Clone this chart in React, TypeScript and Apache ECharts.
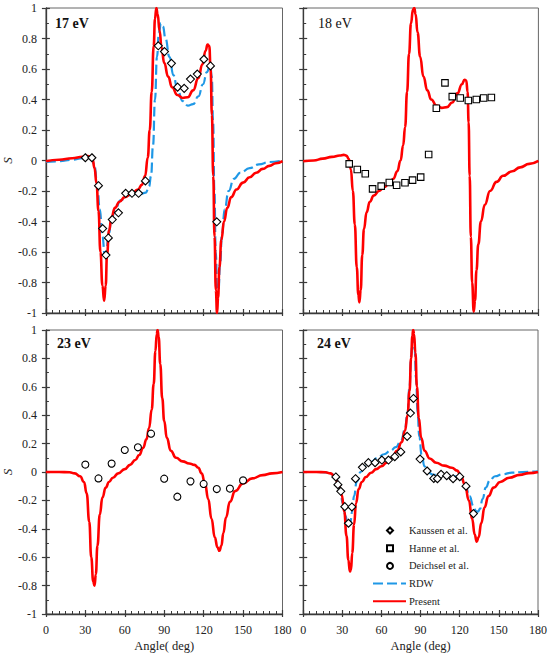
import React, { useEffect, useRef } from "react";
import * as echarts from "echarts";

// ---------- data (angle in deg, S) ----------
const kaussen17: [number, number][] = [
  [30, 0.018], [35, 0.018], [40, -0.165], [43.2, -0.446], [45.7, -0.62], [47.5, -0.508],
  [50.5, -0.387], [55.2, -0.343], [60.7, -0.215], [65.5, -0.215], [70.5, -0.215], [75.7, -0.134],
  [85.5, 0.752], [90.2, 0.714], [95.5, 0.637], [100.2, 0.481], [105.2, 0.473], [110, 0.534],
  [115.2, 0.567], [120.2, 0.664], [125.2, 0.62], [130, -0.402],
];
const rdw17: [number, number][] = [
  [0, -0.01], [10, -0.005], [20, 0.005], [28, 0.015], [32, 0.02], [35, 0.01], [37, -0.04],
  [39, -0.15], [41, -0.32], [43, -0.5], [44.8, -0.62], [46, -0.6], [47.5, -0.5], [50, -0.38],
  [53, -0.31], [57, -0.26], [62, -0.23], [67, -0.22], [72, -0.22], [76, -0.21], [78.5, -0.17],
  [80, -0.1], [81.5, 0.1], [83, 0.4], [84.5, 0.68], [86, 0.84], [87.5, 0.9], [89, 0.88],
  [91, 0.8], [94, 0.68], [97, 0.56], [100, 0.47], [104, 0.39], [108, 0.36], [112, 0.37],
  [116, 0.42], [119.5, 0.5], [122.5, 0.58], [125, 0.63], [126.2, 0.55], [127.2, 0.25],
  [128.2, -0.2], [129.2, -0.6], [130.3, -0.84], [131.3, -0.85], [132.5, -0.68], [134, -0.48],
  [136, -0.32], [139, -0.2], [143, -0.12], [148, -0.08], [155, -0.05], [162, -0.025],
  [170, -0.01], [180, 0.0],
];
const present17: [number, number][] = [
  [0, -0.005], [10, 0.005], [20, 0.015], [28, 0.025], [32, 0.03], [34, 0.025], [35.5, 0.01],
  [37, -0.05], [38.5, -0.15], [40, -0.33], [41.5, -0.6], [43, -0.82], [44.3, -0.92],
  [45.5, -0.82], [46.5, -0.62], [48, -0.46], [50, -0.37], [52.5, -0.31], [56, -0.27],
  [60, -0.24], [65, -0.22], [70, -0.19], [73, -0.16], [75.5, -0.1], [77.5, 0.02], [79, 0.2],
  [80.5, 0.45], [82, 0.75], [83, 0.93], [84, 1.0], [85, 0.96], [86.5, 0.85], [88, 0.74],
  [90, 0.64], [93, 0.55], [96, 0.48], [100, 0.43], [104, 0.41], [108, 0.415], [112, 0.46],
  [116, 0.54], [119, 0.63], [121.5, 0.72], [123, 0.76], [124.3, 0.75], [125.3, 0.6],
  [126.3, 0.3], [127.3, -0.1], [128.3, -0.5], [129.3, -0.85], [130.2, -1.0], [131, -0.9],
  [132, -0.7], [133.5, -0.52], [135.5, -0.4], [138, -0.31], [141, -0.24], [145, -0.19],
  [150, -0.145], [155, -0.11], [160, -0.08], [165, -0.055], [170, -0.035], [175, -0.018],
  [180, -0.004],
];

const hanne18: [number, number][] = [
  [35.2, -0.022], [41.4, -0.059], [47.5, -0.087], [53.1, -0.186], [59.7, -0.168],
  [65.9, -0.144], [71.5, -0.162], [77.9, -0.146], [83.7, -0.129], [89.9, -0.109],
  [96, 0.039], [101.9, 0.343], [108.5, 0.509], [114.1, 0.419], [120.2, 0.41],
  [126.4, 0.393], [132.5, 0.4], [138.1, 0.41], [144, 0.413],
];
const present18: [number, number][] = [
  [0, -0.005], [8, 0.0], [15, 0.012], [22, 0.024], [28, 0.033], [31, 0.037], [33, 0.032],
  [35, 0.01], [36.5, -0.06], [38, -0.2], [39.5, -0.42], [41, -0.7], [42.2, -0.88], [43, -0.93],
  [44, -0.85], [45.2, -0.62], [46.5, -0.45], [48.5, -0.34], [51, -0.27], [54, -0.23],
  [58, -0.2], [62, -0.175], [66, -0.15], [69, -0.12], [72, -0.07], [74.5, 0.0], [76.5, 0.1],
  [78, 0.22], [79.5, 0.45], [81, 0.7], [82.5, 0.9], [84, 0.99], [85, 1.0], [86, 0.96],
  [87.5, 0.84], [89.5, 0.68], [92, 0.55], [95, 0.46], [98, 0.4], [102, 0.36], [106, 0.345],
  [110, 0.35], [114, 0.38], [118, 0.44], [121.5, 0.5], [123.5, 0.53], [124.8, 0.525],
  [125.8, 0.45], [126.6, 0.25], [127.4, -0.1], [128.3, -0.5], [129.3, -0.8], [130.5, -0.99],
  [131.5, -0.92], [132.6, -0.72], [134, -0.55], [136, -0.4], [139, -0.29], [143, -0.2],
  [148, -0.14], [153, -0.1], [160, -0.07], [166, -0.045], [173, -0.022], [180, -0.003],
];

const deichsel23: [number, number][] = [
  [30, 0.052], [40, -0.045], [50, 0.059], [60, 0.155], [70, 0.174], [80, 0.27],
  [90, -0.047], [100, -0.174], [110, -0.066], [120, -0.084], [130, -0.12], [140, -0.117],
  [150, -0.059],
];
const present23: [number, number][] = [
  [0, 0], [10, 0], [18, -0.002], [22, -0.01], [26, -0.03], [29, -0.07], [31, -0.15],
  [33, -0.35], [34.5, -0.6], [36, -0.77], [37, -0.8], [38, -0.72], [39.2, -0.52], [41, -0.3],
  [43, -0.18], [45.5, -0.11], [48, -0.07], [51, -0.04], [55, -0.01], [60, 0.02], [64, 0.05],
  [68, 0.085], [71, 0.12], [74, 0.17], [76.5, 0.23], [78.5, 0.31], [80.5, 0.44], [82, 0.62],
  [83.3, 0.85], [84.3, 0.97], [85, 1.0], [85.8, 0.95], [87, 0.76], [88.5, 0.52], [90, 0.36],
  [92, 0.24], [95, 0.15], [99, 0.1], [104, 0.075], [109, 0.06], [113, 0.05], [116, 0.03],
  [118.5, -0.01], [121, -0.08], [123.5, -0.19], [126, -0.33], [128.5, -0.46], [130.5, -0.53],
  [132, -0.555], [133.5, -0.52], [135, -0.43], [137, -0.32], [140, -0.21], [144, -0.135],
  [150, -0.08], [157, -0.045], [165, -0.022], [172, -0.01], [180, 0.0],
];

const kaussen24: [number, number][] = [
  [25, -0.035], [26.6, -0.089], [28.8, -0.136], [31.9, -0.244], [34.7, -0.361], [37.3, -0.246],
  [40.1, -0.047], [45.4, 0.033], [50, 0.066], [55.1, 0.066], [60.3, 0.084], [65.4, 0.084],
  [70.2, 0.108], [74.8, 0.141], [79.7, 0.251], [82.2, 0.415], [84.5, 0.518], [89.6, 0.091],
  [95, 0.007], [100.1, -0.045], [102.9, -0.047], [105.7, -0.016], [110, -0.026],
  [114.9, -0.047], [120, -0.033], [124.8, -0.1], [130.5, -0.293],
];
const rdw24: [number, number][] = [
  [0, 0], [12, 0], [18, -0.003], [22, -0.015], [25, -0.04], [28, -0.12], [30.5, -0.22],
  [32.5, -0.31], [34, -0.37], [35, -0.38], [36.2, -0.35], [37.5, -0.28], [39, -0.17],
  [41, -0.07], [44, 0.0], [48, 0.04], [52, 0.07], [57, 0.1], [62, 0.125], [67, 0.15],
  [71, 0.175], [75, 0.22], [78, 0.3], [80, 0.42], [81.5, 0.6], [82.8, 0.82], [83.8, 0.93],
  [84.6, 0.94], [85.5, 0.86], [86.5, 0.66], [87.7, 0.42], [89, 0.25], [90.8, 0.12], [93, 0.04],
  [96, -0.005], [100, -0.02], [106, -0.02], [112, -0.022], [117, -0.03], [121, -0.05],
  [124.5, -0.1], [127.5, -0.17], [130.5, -0.24], [132.5, -0.275], [134, -0.28],
  [135.5, -0.26], [137.5, -0.19], [140, -0.11], [143, -0.06], [147, -0.03], [153, -0.015],
  [160, -0.005], [168, 0.0], [180, 0.005],
];
const present24: [number, number][] = [
  [0, 0], [10, 0], [17, -0.002], [21, -0.01], [24, -0.03], [27, -0.08], [29.5, -0.16],
  [31.5, -0.28], [33.2, -0.45], [34.6, -0.62], [35.8, -0.7], [36.6, -0.69], [37.6, -0.57],
  [39, -0.37], [40.5, -0.22], [42.5, -0.12], [45, -0.07], [48, -0.035], [52, -0.005],
  [56, 0.02], [60, 0.04], [64, 0.065], [68, 0.1], [72, 0.15], [75.5, 0.21], [78, 0.29],
  [80, 0.4], [81.5, 0.57], [82.7, 0.8], [83.7, 0.96], [84.3, 1.0], [85, 0.97], [86, 0.84],
  [87.2, 0.6], [88.6, 0.38], [90.5, 0.24], [93, 0.15], [97, 0.095], [102, 0.065],
  [108, 0.045], [114, 0.03], [118, 0.01], [121, -0.03], [124, -0.09], [127, -0.2],
  [129.5, -0.33], [131.5, -0.44], [133, -0.49], [134.5, -0.46], [136.5, -0.36], [139, -0.25],
  [142, -0.17], [146, -0.11], [151, -0.07], [158, -0.04], [166, -0.02], [173, -0.008],
  [180, 0.0],
];

const panelLabels = ["17 eV", "18 eV", "23 eV", "24 eV"];
const legendNames = ["Kaussen et al.", "Hanne et al.", "Deichsel et al.", "RDW", "Present"];
const xTitles = ["", "", "Angle( deg)", "Angle (deg)"];
const yTitle = "S";

// ---------- styles ----------
const FONT = "'Liberation Serif', 'DejaVu Serif', serif";
const RED = "#ff0000";
const BLUE = "#1f98e6";
const AXIS = "#3a3a3a";

const grids = [
  { left: 43.3, top: 8, width: 239.2, height: 305 },
  { left: 303.2, top: 8, width: 235.2, height: 305 },
  { left: 43.3, top: 330, width: 239.2, height: 284 },
  { left: 303.2, top: 330, width: 235.2, height: 284 },
];

export default function App() {
  const ref = useRef<HTMLDivElement>(null);

  useEffect(() => {
    if (!ref.current) return;
    const chart = echarts.init(ref.current, undefined, { renderer: "svg" });

    const xAxes: any[] = [];
    const yAxes: any[] = [];
    for (let i = 0; i < 4; i++) {
      const bottomRow = i >= 2;
      const leftCol = i % 2 === 0;
      xAxes.push({
        type: "value",
        gridIndex: i,
        min: 0,
        max: 180,
        interval: 30,
        name: xTitles[i],
        nameLocation: "middle",
        nameGap: 25,
        nameTextStyle: { fontFamily: FONT, fontSize: 12.5, color: "#222" },
        axisLine: { show: true, onZero: false, lineStyle: { color: AXIS, width: 1.3 } },
        axisTick: { show: true, inside: true, length: 4, lineStyle: { color: AXIS, width: 1.2 } },
        minorTick: { show: true, splitNumber: 6, length: 3, lineStyle: { color: AXIS, width: 1 } },
        axisLabel: {
          show: bottomRow,
          margin: 10,
          fontFamily: FONT,
          fontSize: 12,
          color: "#222",
          showMinLabel: true,
          showMaxLabel: true,
        },
        splitLine: { show: false },
      });
      yAxes.push({
        type: "value",
        gridIndex: i,
        min: -1,
        max: 1,
        interval: 0.2,
        name: leftCol ? yTitle : "",
        nameLocation: "middle",
        nameGap: 30,
        nameRotate: 90,
        nameTextStyle: { fontFamily: FONT, fontSize: 13, fontStyle: "italic", color: "#222" },
        axisLine: { show: true, onZero: false, lineStyle: { color: AXIS, width: 1.3 } },
        axisTick: { show: true, inside: true, length: 4, lineStyle: { color: AXIS, width: 1.2 } },
        minorTick: { show: true, splitNumber: 2, length: 3, lineStyle: { color: AXIS, width: 1 } },
        axisLabel: {
          show: leftCol,
          margin: 9,
          fontFamily: FONT,
          fontSize: 12,
          color: "#222",
          formatter: (v: number) => (Math.abs(v) < 1e-9 ? "0" : String(Math.round(v * 10) / 10)),
        },
        splitLine: { show: false },
      });
    }
    // outside halves of major ticks
    for (let i = 0; i < 4; i++) {
      xAxes.push({
        type: "value", gridIndex: i, min: 0, max: 180, interval: 30, position: "bottom",
        axisLine: { show: false, onZero: false },
        axisTick: { show: true, inside: false, length: 3, lineStyle: { color: AXIS, width: 1.2 } },
        axisLabel: { show: false }, splitLine: { show: false },
      });
      yAxes.push({
        type: "value", gridIndex: i, min: -1, max: 1, interval: 0.2, position: "left",
        axisLine: { show: false, onZero: false },
        axisTick: { show: true, inside: false, length: 4, lineStyle: { color: AXIS, width: 1.2 } },
        axisLabel: { show: false }, splitLine: { show: false },
      });
    }

    const lineSeries = (name: string, data: [number, number][], idx: number, color: string, dashed: boolean) => ({
      type: "line",
      name,
      xAxisIndex: idx,
      yAxisIndex: idx,
      data,
      symbol: "none",
      showSymbol: false,
      smooth: 0.5,
      smoothMonotone: "x",
      clip: true,
      z: dashed ? 2 : 3,
      lineStyle: dashed
        ? { color, width: 2.2, type: [10, 4] }
        : { color, width: 2.6 },
      itemStyle: { color },
    });
    const scatterSeries = (name: string, data: [number, number][], idx: number, symbol: string, size: number) => ({
      type: "scatter",
      name,
      xAxisIndex: idx,
      yAxisIndex: idx,
      data,
      symbol,
      symbolSize: size,
      z: 5,
      itemStyle: { color: "#ffffff", borderColor: "#000000", borderWidth: 1.1, opacity: 1 },
    });

    const hiddenSymbol = { opacity: 0, color: "transparent", borderColor: "transparent" };
    const legendText = { fontFamily: FONT, fontSize: 10.5, color: "#222" };

    const option: any = {
      animation: false,
      backgroundColor: "#ffffff",
      textStyle: { fontFamily: FONT },
      grid: grids.map((g) => ({ ...g, show: true, borderColor: "#666", borderWidth: 1, backgroundColor: "transparent" })),
      xAxis: xAxes,
      yAxis: yAxes,
      title: [
        { text: panelLabels[0], left: 55, top: 16, padding: 0, textStyle: { fontFamily: FONT, fontSize: 14, fontWeight: "bold", color: "#111" } },
        { text: panelLabels[1], left: 318, top: 16, padding: 0, textStyle: { fontFamily: FONT, fontSize: 14, fontWeight: "normal", color: "#111" } },
        { text: panelLabels[2], left: 57, top: 336, padding: 0, textStyle: { fontFamily: FONT, fontSize: 14, fontWeight: "bold", color: "#111" } },
        { text: panelLabels[3], left: 317, top: 336, padding: 0, textStyle: { fontFamily: FONT, fontSize: 14, fontWeight: "bold", color: "#111" } },
      ],
      legend: [
        {
          data: [legendNames[0], legendNames[1], legendNames[2]],
          orient: "vertical",
          left: 386,
          top: 525,
          padding: 0,
          itemWidth: 6,
          itemHeight: 6,
          itemGap: 6.7,
          selectedMode: false,
          textStyle: { ...legendText, padding: [0, 0, 0, 11] },
        },
        {
          data: [
            { name: legendNames[3], itemStyle: hiddenSymbol },
            { name: legendNames[4], itemStyle: hiddenSymbol },
          ],
          orient: "vertical",
          left: 372,
          top: 578,
          padding: 0,
          itemWidth: 33,
          itemHeight: 6,
          itemGap: 6.7,
          selectedMode: false,
          textStyle: { ...legendText, padding: [0, 0, 0, -2] },
        },
      ],
      series: [
        lineSeries(legendNames[3], rdw17, 0, BLUE, true),
        lineSeries(legendNames[4], present17, 0, RED, false),
        scatterSeries(legendNames[0], kaussen17, 0, "diamond", 8),

        lineSeries(legendNames[4], present18, 1, RED, false),
        scatterSeries(legendNames[1], hanne18, 1, "rect", 6.5),

        lineSeries(legendNames[4], present23, 2, RED, false),
        scatterSeries(legendNames[2], deichsel23, 2, "circle", 7),

        lineSeries(legendNames[3], rdw24, 3, BLUE, true),
        lineSeries(legendNames[4], present24, 3, RED, false),
        scatterSeries(legendNames[0], kaussen24, 3, "diamond", 8),
      ],
    };

    chart.setOption(option);
    return () => chart.dispose();
  }, []);

  return (
    <div
      ref={ref}
      style={{ position: "absolute", left: 0, top: 0, width: 550, height: 656, background: "#fff" }}
    />
  );
}
